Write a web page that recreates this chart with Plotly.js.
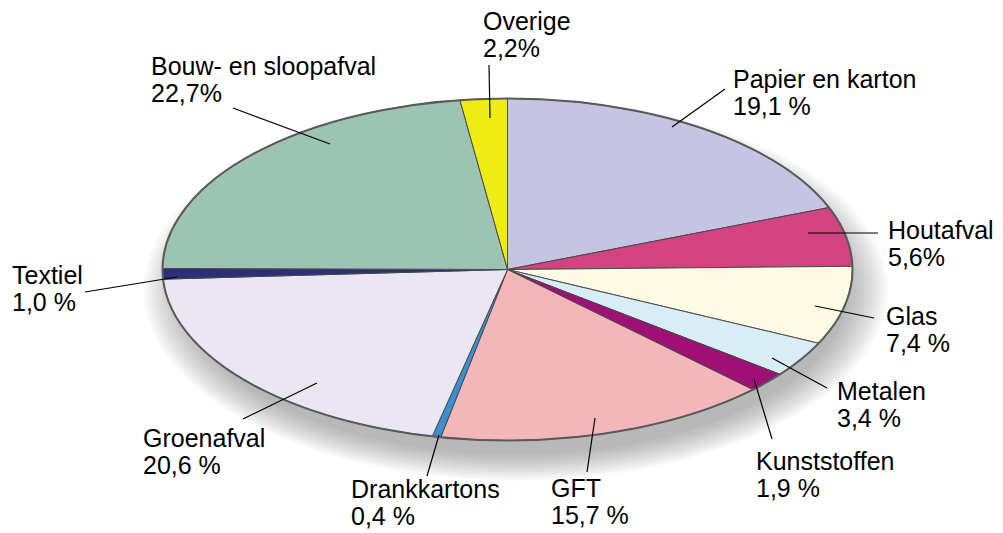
<!DOCTYPE html>
<html>
<head>
<meta charset="utf-8">
<script src="https://cdn.plot.ly/plotly-3.0.1.min.js"></script>
<style>
  html, body { margin: 0; padding: 0; background: #ffffff; }
  #chart { width: 1003px; height: 533px; }
</style>
</head>
<body>
<div id="chart"></div>
<script>
// ---- data (clockwise from 12 o'clock) ----
const categories = ['Papier en karton', 'Houtafval', 'Glas', 'Metalen', 'Kunststoffen', 'GFT',
                    'Drankkartons', 'Groenafval', 'Textiel', 'Bouw- en sloopafval', 'Overige'];
const shares = [19.1, 5.6, 7.4, 3.4, 1.9, 15.7, 0.4, 20.6, 1.0, 22.7, 2.2];
const shareLabels = ['19,1 %', '5,6%', '7,4 %', '3,4 %', '1,9 %', '15,7 %', '0,4 %', '20,6 %', '1,0 %', '22,7%', '2,2%'];

// ---- style ----
const sliceColors = ['#c5c4e3', '#d3437f', '#fdfbe3', '#d9edf6', '#9e1075', '#f4b7b9',
                     '#3a8fd0', '#ebe7f2', '#2b2f78', '#9dc4b2', '#eeec14'];

// ---- layout geometry (pixel-like data space) ----
const W = 1003, H = 533;
const cx = 507.5, cy = 269.5, ra = 345, rb = 171;
const lineGap = 27.5;

// label placement: [text left x, cap top y, leader start x, y, leader end x, y]
const labelPlace = [
  [734, 71, 725, 89, 672, 127],
  [889, 222, 878, 233, 808, 233],
  [887, 308, 874, 318, 815, 306],
  [838, 383, 827, 388, 772, 358],
  [757, 453, 772, 439, 754, 379],
  [552, 480, 587, 472, 595, 418],
  [352, 481, 427, 476, 439, 435],
  [144, 430, 243, 419, 317, 383],
  [13, 267, 85, 292, 177, 277],
  [152, 58, 233, 108, 330, 144],
  [484, 13, 489, 65, 490, 118]
];

const total = shares.reduce((s, v) => s + v, 0);
const traces = [];
let cum = 0;
shares.forEach((v, i) => {
  const t0 = cum / total * 2 * Math.PI;
  cum += v;
  const t1 = cum / total * 2 * Math.PI;
  const xs = [cx], ys = [cy];
  const n = Math.max(4, Math.ceil((t1 - t0) / (Math.PI / 360)));
  for (let k = 0; k <= n; k++) {
    const t = t0 + (t1 - t0) * k / n;
    xs.push(cx + ra * Math.sin(t));
    ys.push(cy - rb * Math.cos(t));
  }
  xs.push(cx); ys.push(cy);
  traces.push({
    type: 'scatter', mode: 'lines', x: xs, y: ys,
    fill: 'toself', fillcolor: sliceColors[i],
    line: { color: '#4a4a4a', width: 1 },
    hoverinfo: 'skip', showlegend: false, name: categories[i]
  });
});

const shapes = [];
// soft shadow under the ellipse (stronger toward the bottom)
const shN = 14;
for (let k = 0; k < shN; k++) {
  const ea = ra - 12 + k * 3.0, eb = rb - 6 + k * 2.0;
  const sx = cx + 8, sy = cy + 20;
  shapes.push({
    type: 'circle', xref: 'x', yref: 'y', layer: 'below',
    x0: sx - ea, x1: sx + ea, y0: sy - eb, y1: sy + eb,
    fillcolor: 'rgba(110,110,110,0.04)', line: { width: 0 }
  });
}
// rim
shapes.push({
  type: 'circle', xref: 'x', yref: 'y', layer: 'above',
  x0: cx - ra, x1: cx + ra, y0: cy - rb, y1: cy + rb,
  fillcolor: 'rgba(0,0,0,0)', line: { color: '#5a5a5a', width: 2 }
});

const annotations = [];
const labelFont = { family: 'Liberation Sans, Arial, sans-serif', size: 25, color: '#000000' };
labelPlace.forEach((p, i) => {
  shapes.push({
    type: 'line', xref: 'x', yref: 'y', layer: 'above',
    x0: p[2], y0: p[3], x1: p[4], y1: p[5],
    line: { color: '#000000', width: 1.2 }
  });
  [categories[i], shareLabels[i]].forEach((txt, j) => {
    annotations.push({
      xref: 'x', yref: 'y', x: p[0] - 2, y: p[1] - 7.5 + j * lineGap,
      xanchor: 'left', yanchor: 'top', align: 'left', showarrow: false,
      borderpad: 0, text: txt, font: labelFont
    });
  });
});

const layout = {
  width: W, height: H,
  margin: { l: 0, r: 0, t: 0, b: 0 },
  paper_bgcolor: '#ffffff', plot_bgcolor: '#ffffff',
  xaxis: { range: [0, W], visible: false, fixedrange: true },
  yaxis: { range: [H, 0], visible: false, fixedrange: true },
  shapes: shapes, annotations: annotations, showlegend: false
};

Plotly.newPlot('chart', traces, layout, { displayModeBar: false, staticPlot: true });
</script>
</body>
</html>
